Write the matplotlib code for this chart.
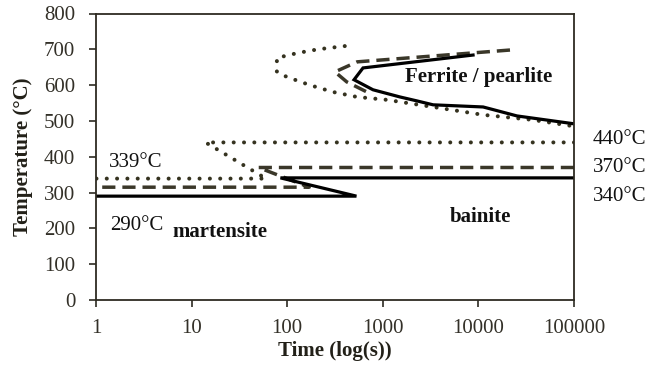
import numpy as np
import matplotlib.pyplot as plt
from matplotlib.ticker import FixedLocator, FixedFormatter, NullLocator

plt.rcParams['font.family'] = ['Liberation Serif', 'DejaVu Serif']

# nose curves (ferrite / pearlite start), time in s, temperature in degC
nose_340_t = [8790, 621, 500, 790, 1510, 2270, 3360, 11200, 13200, 25300, 100000]
nose_340_T = [684, 648, 615, 587, 567, 556, 545, 539, 534, 514, 492]

nose_370_t = [21400, 540, 316, 420, 680]
nose_370_T = [698, 665, 637, 609, 581]

nose_440_t = [400, 210, 130, 78, 78, 99, 173, 300, 537, 1100, 3360, 11200, 37000, 100000]
nose_440_T = [709, 700, 690, 676, 637, 623, 600, 581, 567, 559, 539, 517, 503, 485]

# bainite start / martensite start
bain_340_t = [100000, 85, 530, 1]
bain_340_T = [341, 341, 290, 290]

bain_370_t = [100000, 50, 170, 1]
bain_370_T = [370, 370, 315, 315]

bain_440_t = [100000, 14, 60, 1]
bain_440_T = [440, 440, 339, 339]

xticks = [1, 10, 100, 1000, 10000, 100000]
xtick_labels = ['1', '10', '100', '1000', '10000', '100000']
yticks = [0, 100, 200, 300, 400, 500, 600, 700, 800]

c_solid = '#000000'
c_dash = '#3a3729'
c_dot = '#35321f'
c_axis = '#2e2b22'

fig = plt.figure(figsize=(6.48, 3.72), dpi=100)
ax = fig.add_axes([96 / 648, 1 - 300 / 372, (574 - 96) / 648, (300 - 13.5) / 372])

dot_style = (0, (0.01, 2.55))
dash_style = (0, (3.8, 2.0))

ax.plot(nose_440_t, nose_440_T, color=c_dot, lw=2.9, ls=dot_style, dash_capstyle='round')
ax.plot(bain_440_t, bain_440_T, color=c_dot, lw=2.9, ls=dot_style, dash_capstyle='round')
ax.plot(nose_370_t, nose_370_T, color=c_dash, lw=2.5, ls=dash_style)
ax.plot(bain_370_t, bain_370_T, color=c_dash, lw=2.5, ls=dash_style)
ax.plot(nose_340_t, nose_340_T, color=c_solid, lw=2.3, solid_joinstyle='miter')
ax.plot(bain_340_t, bain_340_T, color=c_solid, lw=2.3, solid_joinstyle='miter')

ax.set_xscale('log')
ax.set_xlim(1, 100000)
ax.set_ylim(0, 800)
ax.xaxis.set_major_locator(FixedLocator(xticks))
ax.xaxis.set_major_formatter(FixedFormatter(xtick_labels))
ax.xaxis.set_minor_locator(NullLocator())
ax.set_yticks(yticks)

fs = 15
for s in ax.spines.values():
    s.set_color(c_axis)
    s.set_linewidth(1.3)
ax.tick_params(direction='out', length=5, width=1.2, color=c_axis,
               labelsize=fs, labelcolor='#333028')
ax.tick_params(axis='y', pad=10)
ax.tick_params(axis='x', pad=9)

ax.set_xlabel('Time (log(s))', fontsize=fs, fontweight='bold', color='#222018', labelpad=2)
ax.set_ylabel('Temperature (°C)', fontsize=fs, fontweight='bold', color='#222018', labelpad=8)

tc = '#111111'
ax.text(1700, 623, 'Ferrite / pearlite', fontsize=fs, fontweight='bold', color=tc,
        ha='left', va='center')
ax.text(10400, 232, 'bainite', fontsize=fs, fontweight='bold', color=tc, ha='center', va='center')
ax.text(19.6, 190, 'martensite', fontsize=fs, fontweight='bold', color=tc, ha='center', va='center')
ax.text(2.7, 209, '290°C', fontsize=fs, color=tc, ha='center', va='center')
ax.text(2.63, 383, '339°C', fontsize=fs, color=tc, ha='center', va='center')

trans = ax.get_yaxis_transform()
for lab, y in [('440°C', 447), ('370°C', 369), ('340°C', 288)]:
    ax.text(1.04, y, lab, transform=trans, fontsize=fs, color=tc, ha='left', va='center',
            clip_on=False)

fig.savefig('out.png', dpi=100)
